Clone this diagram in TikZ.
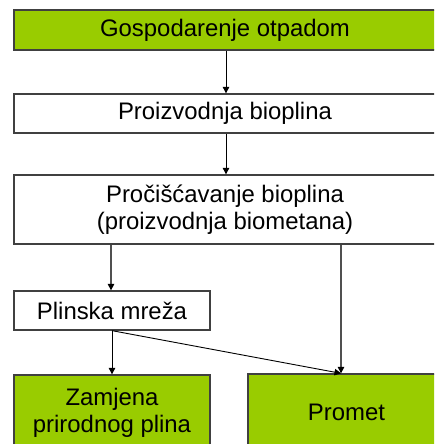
\documentclass[tikz,border=0pt]{standalone}
\usepackage{fontspec}
\setmainfont{Liberation Sans}
\usetikzlibrary{arrows.meta}
\definecolor{boxgreen}{HTML}{99CC00}
\definecolor{boxline}{HTML}{404040}
\definecolor{arrgray}{HTML}{505050}
\begin{document}
\begin{tikzpicture}[x=1pt,y=-1pt,
  box/.style={draw=boxline,line width=1.3pt,rectangle,inner sep=0pt,align=center,
    font=\fontsize{23.9}{27}\selectfont},
  greenbox/.style={box,fill=boxgreen},
  whitebox/.style={box,fill=white},
  arr/.style={draw=black,line width=0.9pt,-{Triangle[length=6.5pt,width=6.5pt]}},
  garr/.style={draw=arrgray,line width=1.2pt,-{Triangle[length=6.5pt,width=6.5pt,color=black]}}]
\useasboundingbox (0,0) rectangle (434,444);
\clip (0,0) rectangle (434,444);
\fill[white] (0,0) rectangle (434,444);
\node[greenbox,minimum width=422pt,minimum height=40pt] (top) at (225,30) {Gospodarenje otpadom};
\node[whitebox,minimum width=422pt,minimum height=39pt] (prod) at (225,113.5) {Proizvodnja bioplina};
\node[whitebox,minimum width=422pt,minimum height=69pt] (pur) at (225,209.5) {Pro\v{c}i\v{s}\'{c}avanje bioplina\\(proizvodnja biometana)};
\node[whitebox,minimum width=196pt,minimum height=39pt] (plin) at (112,310.5) {Plinska mre\v{z}a};
\node[greenbox,minimum width=196pt,minimum height=76pt] (zam) at (112,413) {Zamjena\\prirodnog plina};
\node[greenbox,minimum width=197pt,minimum height=76pt] (prom) at (346.5,412) {Promet};
\coordinate (px) at (341,0);
\coordinate (lx) at (111,0);
\coordinate (cx) at (226,0);
\draw[arr] (top.south -| cx) -- (prod.north -| cx);
\draw[arr] (prod.south -| cx) -- (pur.north -| cx);
\draw[garr] (pur.south -| lx) -- (plin.north -| lx);
\draw[garr] (pur.south -| px) -- (prom.north -| px);
\draw[arr] (plin.south) -- (zam.north);
\draw[arr] (plin.south) -- (prom.north -| px);
\end{tikzpicture}
\end{document}
